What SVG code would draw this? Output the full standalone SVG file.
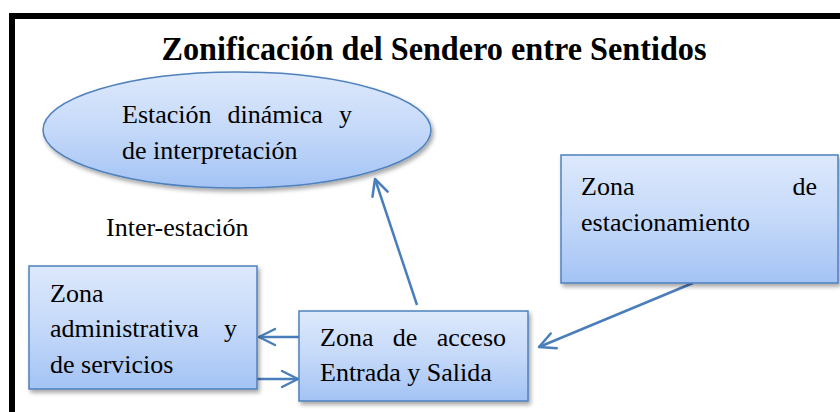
<svg xmlns="http://www.w3.org/2000/svg" width="840" height="412" viewBox="0 0 840 412">
<style>
.t{font-family:"Liberation Serif","Times New Roman",serif;font-size:26px;fill:#000}
.title{font-family:"Liberation Serif","Times New Roman",serif;font-size:34px;font-weight:bold;fill:#000}
.box{fill:url(#g);stroke:#4f81bd;stroke-width:1.5;filter:url(#sh)}
.conn{stroke:#4a7ebb;stroke-width:2.5;fill:none;marker-end:url(#arr)}
</style>
<defs>
<linearGradient id="g" x1="0" y1="0" x2="0" y2="1">
<stop offset="0" stop-color="#dde9fc"/>
<stop offset="0.5" stop-color="#c5d9f9"/>
<stop offset="1" stop-color="#a3c3f5"/>
</linearGradient>
<filter id="sh" x="-10%" y="-10%" width="130%" height="140%">
<feDropShadow dx="2" dy="3" stdDeviation="2" flood-color="#000" flood-opacity="0.35"/>
</filter>
<marker id="arr" viewBox="0 0 20 20" refX="18" refY="10" markerWidth="20" markerHeight="20" markerUnits="userSpaceOnUse" orient="auto">
<path d="M2,2 L18,10 L2,18" fill="none" stroke="#4a7ebb" stroke-width="2.5" stroke-linecap="round" stroke-linejoin="round"/>
</marker>
</defs>
<rect x="0" y="0" width="840" height="412" fill="#fff"/>
<rect id="frame" x="12" y="16" width="840" height="410" fill="none" stroke="#000" stroke-width="6"/>
<text class="title" x="434" y="60" text-anchor="middle" textLength="545" lengthAdjust="spacingAndGlyphs">Zonificación del Sendero entre Sentidos</text>
<g id="connectors">
<line class="conn" x1="417" y1="305" x2="375" y2="179"/>
<line class="conn" x1="693" y1="283" x2="539" y2="347"/>
<line class="conn" x1="299" y1="337" x2="259" y2="337"/>
<line class="conn" x1="257" y1="379" x2="298" y2="379"/>
</g>
<g id="estacion">
<ellipse class="box" cx="237" cy="130" rx="194" ry="58"/>
<text class="t" y="123"><tspan x="122">Estación</tspan><tspan x="227.6">dinámica</tspan><tspan x="352" text-anchor="end">y</tspan></text>
<text class="t" x="122" y="159">de interpretación</text>
</g>
<text id="interestacion" class="t" x="106" y="236">Inter-estación</text>
<g id="estacionamiento">
<rect class="box" x="561" y="155" width="277" height="128"/>
<text class="t" x="581" y="195">Zona</text>
<text class="t" x="817" y="195" text-anchor="end">de</text>
<text class="t" x="581" y="231">estacionamiento</text>
</g>
<g id="administrativa">
<rect class="box" x="29" y="266" width="228" height="123"/>
<text class="t" x="50" y="302">Zona</text>
<text class="t" y="337"><tspan x="50">administrativa</tspan><tspan x="237" text-anchor="end">y</tspan></text>
<text class="t" x="50" y="373">de servicios</text>
</g>
<g id="acceso">
<rect class="box" x="299" y="311" width="229" height="90"/>
<text class="t" y="346"><tspan x="320">Zona</tspan><tspan x="392.8">de</tspan><tspan x="506" text-anchor="end">acceso</tspan></text>
<text class="t" x="320" y="381">Entrada y Salida</text>
</g>
</svg>
